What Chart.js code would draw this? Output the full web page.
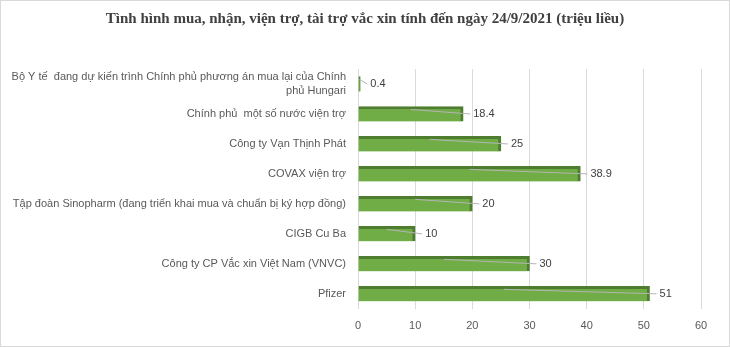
<!DOCTYPE html>
<html>
<head>
<meta charset="utf-8">
<script src="https://cdn.jsdelivr.net/npm/chart.js@4/dist/chart.umd.min.js"></script>
<style>
  html, body { margin: 0; padding: 0; background: #fff; }
  #wrap { position: relative; width: 728px; height: 345px; border: 1px solid #d9d9d9; }
</style>
</head>
<body>
<div id="wrap"><canvas id="myChart" width="728" height="345"></canvas></div>
<script>
// data
const chartTitle = 'Tình hình mua, nhận, viện trợ, tài trợ vắc xin tính đến ngày 24/9/2021 (triệu liều)';
const categories = [
    ['Bộ Y tế  đang dự kiến trình Chính phủ phương án mua lại của Chính', 'phủ Hungari'],
    'Chính phủ  một số nước viện trợ',
    'Công ty Vạn Thịnh Phát',
    'COVAX viện trợ',
    'Tập đoàn Sinopharm (đang triển khai mua và chuẩn bị ký hợp đồng)',
    'CIGB Cu Ba',
    'Công ty CP Vắc xin Việt Nam (VNVC)',
    'Pfizer'
];
const doses = [0.4, 18.4, 25, 38.9, 20, 10, 30, 51];
const xTicks = [0, 10, 20, 30, 40, 50, 60];

// title drawn by hand so it sits in the middle of the whole picture
const centeredTitle = {
    id: 'centeredTitle',
    afterDraw(chart) {
        const ctx = chart.ctx;
        ctx.save();
        ctx.fillStyle = '#404040';
        ctx.font = 'bold 15px "Liberation Serif", "Times New Roman", serif';
        ctx.textAlign = 'center';
        ctx.textBaseline = 'middle';
        ctx.fillText(chartTitle, 364, 18);
        ctx.restore();
    }
};

// value labels with the little leader lines
const valueLabels = {
    id: 'valueLabels',
    afterDatasetsDraw(chart) {
        const ctx = chart.ctx;
        const meta = chart.getDatasetMeta(0);
        ctx.save();
        meta.data.forEach(function (bar, i) {
            const end = bar.x, base = bar.base, y = bar.y;
            const top = y - bar.height / 2;
            ctx.strokeStyle = '#b4b4b4';
            ctx.lineWidth = 1;
            ctx.beginPath();
            ctx.moveTo(base + (end - base) * 0.5, top + 3);
            ctx.lineTo(end + 7, y);
            ctx.stroke();
            ctx.fillStyle = '#404040';
            ctx.font = '11px "Liberation Sans", Arial, sans-serif';
            ctx.textAlign = 'left';
            ctx.textBaseline = 'middle';
            ctx.fillText(String(doses[i]), end + 10, y);
        });
        ctx.restore();
    }
};

new Chart('myChart', {
    type: 'bar',
    data: {
        labels: categories,
        datasets: [{
            data: doses,
            backgroundColor: '#70ad47',
            borderColor: '#4e7d2f',
            borderWidth: { top: 3, right: 3, bottom: 0, left: 0 },
            borderSkipped: false,
            barThickness: 15
        }]
    },
    options: {
        indexAxis: 'y',
        responsive: false,
        animation: false,
        layout: { padding: { left: 0, right: 28, top: 68, bottom: 2 } },
        plugins: {
            legend: { display: false },
            tooltip: { enabled: false },
            title: { display: false }
        },
        scales: {
            x: {
                min: 0,
                max: 60,
                afterBuildTicks: function (scale) {
                    scale.ticks = xTicks.map(function (v) { return { value: v }; });
                },
                grid: { color: '#d9d9d9', drawTicks: false },
                border: { display: false },
                ticks: {
                    padding: 11,
                    color: '#595959',
                    font: { family: '"Liberation Sans", Arial, sans-serif', size: 11 }
                }
            },
            y: {
                grid: { display: false, drawTicks: false },
                border: { display: false },
                afterFit: function (scale) { scale.width = 357; },
                ticks: {
                    autoSkip: false,
                    padding: 12,
                    color: '#595959',
                    font: { family: '"Liberation Sans", Arial, sans-serif', size: 11 }
                }
            }
        }
    },
    plugins: [valueLabels, centeredTitle]
});
</script>
</body>
</html>
